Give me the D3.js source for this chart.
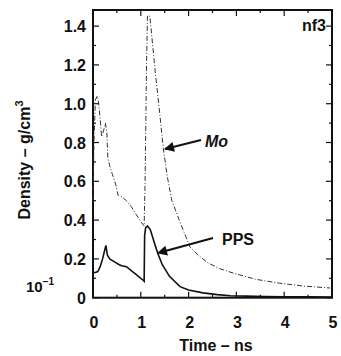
<!DOCTYPE html>
<html><head><meta charset="utf-8">
<script src="https://cdn.jsdelivr.net/npm/d3@7"></script>
<style>body{margin:0;background:#fff}text{font-family:"Liberation Sans",Arial,sans-serif;font-weight:bold;fill:#111}</style>
</head><body><svg id="c" width="341" height="356"></svg>
<script>
const xTicks=[0,1,2,3,4,5];
const yTicks=[0,0.2,0.4,0.6,0.8,1.0,1.2,1.4];
const yTickLabels=["0","0.2","0.4","0.6","0.8","1.0","1.2","1.4"];
const ppsT=[0,0.05,0.1,0.15,0.2,0.25,0.27,0.3,0.35,0.45,0.55,0.6,0.7,0.8,0.9,1.0,1.05,1.07,1.08,1.1,1.14,1.2,1.3,1.36,1.45,1.6,1.82,2.0,2.3,2.6,2.87,3.2,3.6,4.0,4.5,5.0];
const ppsV=[0.13,0.13,0.135,0.16,0.2,0.25,0.27,0.22,0.2,0.185,0.17,0.165,0.16,0.14,0.12,0.1,0.09,0.085,0.32,0.36,0.37,0.35,0.27,0.225,0.17,0.11,0.057,0.04,0.025,0.016,0.01,0.008,0.006,0.005,0.004,0.003];
const moT=[0,0.02,0.05,0.09,0.12,0.15,0.18,0.22,0.26,0.29,0.31,0.35,0.4,0.48,0.52,0.6,0.7,0.8,0.9,0.98,1.02,1.07,1.09,1.12,1.14,1.19,1.3,1.4,1.47,1.55,1.65,1.82,2.03,2.2,2.4,2.65,2.93,3.4,3.9,4.4,4.96];
const moV=[0.5,0.8,1.02,1.04,1.0,0.92,0.83,0.86,0.9,0.85,0.72,0.68,0.64,0.58,0.53,0.52,0.5,0.47,0.43,0.4,0.385,0.37,0.6,1.2,1.455,1.45,1.17,0.94,0.77,0.63,0.5,0.39,0.26,0.22,0.18,0.15,0.127,0.095,0.075,0.06,0.05];
const svg=d3.select("#c");
const L=93,R=332,T=10,B=297.7;
const x=d3.scaleLinear().domain([0,5]).range([L,R]);
const y=d3.scaleLinear().domain([0,1.483]).range([B,T]);
svg.append("rect").attr("x",L).attr("y",T).attr("width",R-L).attr("height",B-T).attr("fill","none").attr("stroke","#111").attr("stroke-width",2);
const g=svg.append("g").attr("stroke","#111").attr("stroke-width",1.2);
d3.range(0,1.45,0.1).forEach(v=>{const len=(Math.round(v*10)%2===0)?6:3;
 g.append("line").attr("x1",L).attr("x2",L+len).attr("y1",y(v)).attr("y2",y(v));
 g.append("line").attr("x1",R).attr("x2",R-len).attr("y1",y(v)).attr("y2",y(v));});
d3.range(0,5.01,0.5).forEach(v=>{const len=(Math.abs(v-Math.round(v))<1e-6)?6:3;
 g.append("line").attr("x1",x(v)).attr("x2",x(v)).attr("y1",B).attr("y2",B-len);
 g.append("line").attr("x1",x(v)).attr("x2",x(v)).attr("y1",T).attr("y2",T+len);});
yTicks.forEach((v,i)=>svg.append("text").attr("x",86).attr("y",y(v)+6).attr("text-anchor","end").attr("font-size",16).text(yTickLabels[i]));
xTicks.forEach(v=>svg.append("text").attr("x",x(v)+1).attr("y",328).attr("text-anchor","middle").attr("font-size",16).text(v));
const tl=svg.append("text").attr("x",26).attr("y",292).attr("font-size",15);
tl.append("tspan").text("10");tl.append("tspan").attr("dy",-7).attr("font-size",10).text("−1");
svg.append("text").attr("x",216).attr("y",351).attr("text-anchor","middle").attr("font-size",16).text("Time – ns");
const yt=svg.append("text").attr("transform","translate(30,160) rotate(-90)").attr("text-anchor","middle").attr("font-size",16);
yt.append("tspan").text("Density – g/cm");yt.append("tspan").attr("dy",-7).attr("font-size",11).text("3");
svg.append("text").attr("x",326).attr("y",31).attr("text-anchor","end").attr("font-size",16).text("nf3");
const line=d3.line().x(d=>x(d[0])).y(d=>y(d[1]));
svg.append("path").datum(moT.map((t,i)=>[t,moV[i]])).attr("d",line).attr("fill","none").attr("stroke","#333").attr("stroke-width",1).attr("stroke-dasharray","5,2,1,2");
svg.append("path").datum(ppsT.map((t,i)=>[t,ppsV[i]])).attr("d",line).attr("fill","none").attr("stroke","#111").attr("stroke-width",1.6);
svg.append("defs").append("marker").attr("id","ah").attr("viewBox","0 0 10 10").attr("refX",9).attr("refY",5).attr("markerWidth",7).attr("markerHeight",5).attr("orient","auto").append("path").attr("d","M0,0L10,5L0,10z").attr("fill","#111");
svg.append("line").attr("x1",201).attr("y1",140).attr("x2",165).attr("y2",149).attr("stroke","#111").attr("stroke-width",2).attr("marker-end","url(#ah)");
svg.append("text").attr("x",205).attr("y",147).attr("font-size",16).attr("font-style","italic").text("Mo");
svg.append("line").attr("x1",213).attr("y1",238).attr("x2",158).attr("y2",253).attr("stroke","#111").attr("stroke-width",2).attr("marker-end","url(#ah)");
svg.append("text").attr("x",222).attr("y",245).attr("font-size",16).text("PPS");
</script></body></html>
